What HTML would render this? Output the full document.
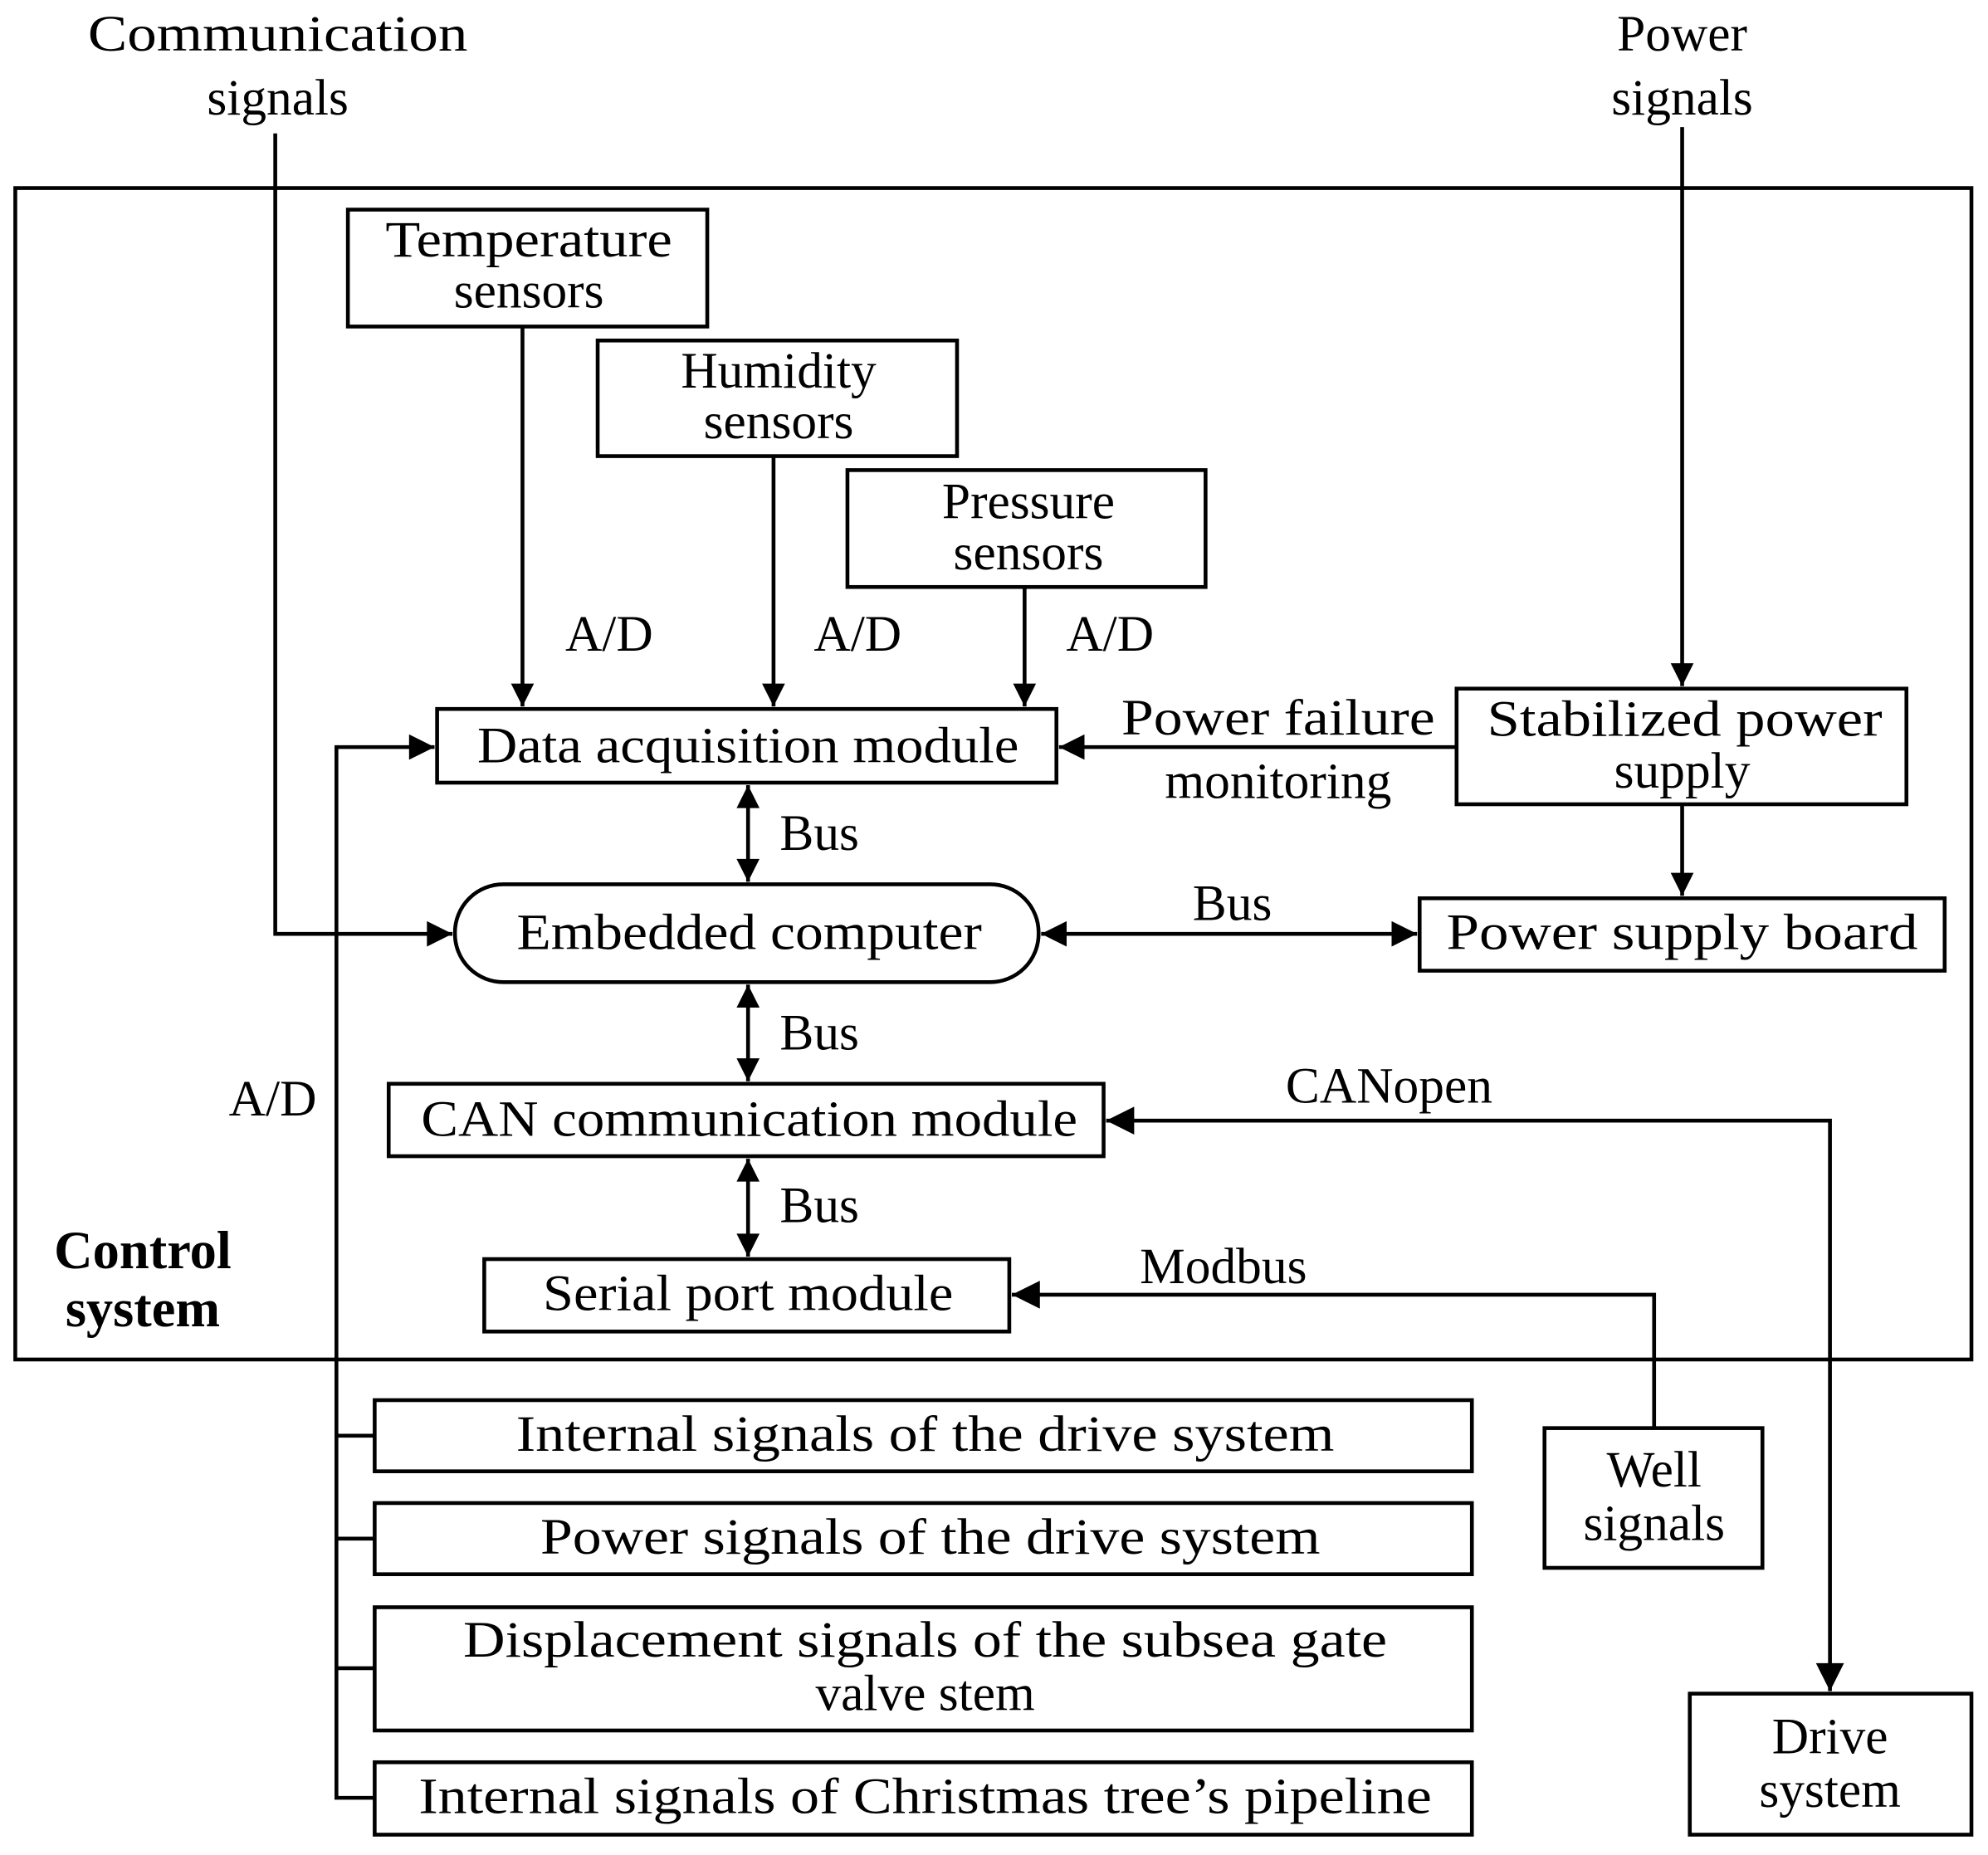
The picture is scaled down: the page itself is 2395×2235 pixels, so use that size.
<!DOCTYPE html>
<html><head><style>html,body{margin:0;padding:0;background:#fff}svg{display:block}</style></head>
<body>
<svg width="2395" height="2235" viewBox="0 0 1560 1460" preserveAspectRatio="none" xmlns="http://www.w3.org/2000/svg">
<defs>
<marker id="b" viewBox="0 0 10 10" refX="10" refY="5" markerWidth="28" markerHeight="22" markerUnits="userSpaceOnUse" orient="auto-start-reverse"><path d="M0,0L10,5L0,10z" fill="#000"/></marker>
<marker id="c" viewBox="0 0 10 10" refX="10" refY="5" markerWidth="24" markerHeight="18" markerUnits="userSpaceOnUse" orient="auto-start-reverse"><path d="M0,0L10,5L0,10z" fill="#000"/></marker>
<marker id="d" viewBox="0 0 10 10" refX="10" refY="5" markerWidth="28" markerHeight="20" markerUnits="userSpaceOnUse" orient="auto-start-reverse"><path d="M0,0L10,5L0,10z" fill="#000"/></marker>
</defs>
<g fill="none" stroke="#000" stroke-width="3">
<rect x="12" y="148" width="1535" height="922"/>
<rect x="273" y="165" width="282" height="92"/>
<rect x="469" y="268" width="282" height="91"/>
<rect x="665" y="370" width="281" height="92"/>
<rect x="343" y="558" width="486" height="58"/>
<rect x="357" y="696" width="458" height="77" rx="38"/>
<rect x="1114" y="707" width="412" height="57"/>
<rect x="1143" y="542" width="353" height="91"/>
<rect x="305" y="853" width="561" height="57"/>
<rect x="380" y="991" width="412" height="57"/>
<rect x="1212" y="1124" width="171" height="110"/>
<rect x="1326" y="1333" width="221" height="111"/>
<rect x="294" y="1102" width="861" height="56"/>
<rect x="294" y="1183" width="861" height="56"/>
<rect x="294" y="1265" width="861" height="97"/>
<rect x="294" y="1387" width="861" height="57"/>
<path d="M216,105V735H355" marker-end="url(#d)"/>
<path d="M1320,100V540" marker-end="url(#c)"/>
<path d="M410,257V556" marker-end="url(#c)"/>
<path d="M607,359V556" marker-end="url(#c)"/>
<path d="M804,462V556" marker-end="url(#c)"/>
<path d="M1143,588H831" marker-end="url(#d)"/>
<path d="M1320,633V705" marker-end="url(#c)"/>
<path d="M587,618V694" marker-start="url(#c)" marker-end="url(#c)"/>
<path d="M587,775V851" marker-start="url(#c)" marker-end="url(#c)"/>
<path d="M587,912V989" marker-start="url(#c)" marker-end="url(#c)"/>
<path d="M817,735H1112" marker-start="url(#d)" marker-end="url(#d)"/>
<path d="M1436,1331V882H868" marker-start="url(#b)" marker-end="url(#b)"/>
<path d="M1298,1124V1019H794" marker-end="url(#b)"/>
<path d="M294,1415H264V588H341" marker-end="url(#d)"/>
<path d="M264,1130H294M264,1211H294M264,1313H294"/>
</g>
<g font-family="'Liberation Serif',serif" font-size="40" text-anchor="middle" fill="#000" lengthAdjust="spacingAndGlyphs">
<text x="218" y="40" textLength="298" lengthAdjust="spacingAndGlyphs">Communication</text>
<text x="218" y="90">signals</text>
<text x="1320" y="40">Power</text>
<text x="1320" y="90">signals</text>
<text x="415" y="202" textLength="225" lengthAdjust="spacingAndGlyphs">Temperature</text>
<text x="415" y="242">sensors</text>
<text x="611" y="305">Humidity</text>
<text x="611" y="345">sensors</text>
<text x="807" y="408">Pressure</text>
<text x="807" y="448">sensors</text>
<text x="478" y="512">A/D</text>
<text x="673" y="512">A/D</text>
<text x="871" y="512">A/D</text>
<text x="587" y="600" textLength="425" lengthAdjust="spacingAndGlyphs">Data acquisition module</text>
<text x="1003" y="578" textLength="246" lengthAdjust="spacingAndGlyphs">Power failure</text>
<text x="1003" y="628">monitoring</text>
<text x="1322" y="579" textLength="310" lengthAdjust="spacingAndGlyphs">Stabilized power</text>
<text x="1320" y="620">supply</text>
<text x="643" y="669">Bus</text>
<text x="588" y="747" textLength="365" lengthAdjust="spacingAndGlyphs">Embedded computer</text>
<text x="967" y="724">Bus</text>
<text x="1320" y="747" textLength="370" lengthAdjust="spacingAndGlyphs">Power supply board</text>
<text x="643" y="826">Bus</text>
<text x="1090" y="868">CANopen</text>
<text x="214" y="878">A/D</text>
<text x="588" y="894" textLength="515" lengthAdjust="spacingAndGlyphs">CAN communication module</text>
<text x="643" y="962">Bus</text>
<text x="960" y="1010">Modbus</text>
<text x="587" y="1031" textLength="322" lengthAdjust="spacingAndGlyphs">Serial port module</text>
<text x="1298" y="1170">Well</text>
<text x="1298" y="1212">signals</text>
<text x="1436" y="1380">Drive</text>
<text x="1436" y="1422">system</text>
<text x="726" y="1142" textLength="642" lengthAdjust="spacingAndGlyphs">Internal signals of the drive system</text>
<text x="730" y="1223" textLength="612" lengthAdjust="spacingAndGlyphs">Power signals of the drive system</text>
<text x="726" y="1304" textLength="725" lengthAdjust="spacingAndGlyphs">Displacement signals of the subsea gate</text>
<text x="726" y="1346">valve stem</text>
<text x="726" y="1427" textLength="795" lengthAdjust="spacingAndGlyphs">Internal signals of Christmas tree’s pipeline</text>
<text x="112" y="998" font-weight="bold" font-size="42">Control</text>
<text x="112" y="1044" font-weight="bold" font-size="42">system</text>
</g>
</svg>
</body></html>
